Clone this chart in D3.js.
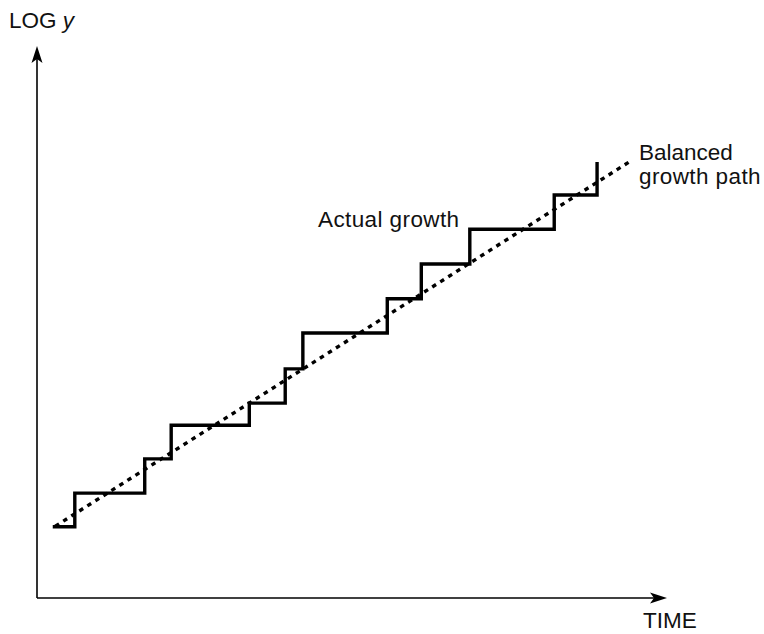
<!DOCTYPE html>
<html>
<head>
<meta charset="utf-8">
<script src="https://cdn.jsdelivr.net/npm/d3@7"></script>
<style>
  html, body { margin: 0; padding: 0; background: #fff; }
  svg { display: block; }
  text { font-family: "Liberation Sans", Arial, Helvetica, sans-serif; fill: #111; }
</style>
</head>
<body>
<script>
// ---- data (arbitrary units: time 0..100, log y 0..100) ----
const stepTimes  = [2.5, 6.0, 17.1, 21.3, 33.7, 39.4, 42.2, 55.6, 61.0, 68.7, 82.1, 88.9];
const stepLevels = [12.9, 19.0, 25.2, 31.3, 35.3, 41.5, 48.0, 54.2, 60.5, 66.8, 73.0, 79.0];
const balancedTimes  = [2.9, 94.0];
const balancedLevels = [13.0, 79.0];
const axisLabels = { x: "TIME", y: "LOG" };
const annotations = ["Actual growth", "Balanced", "growth path"];

const W = 764, H = 634;
const x = d3.scaleLinear().domain([0, 100]).range([37, 667]);
const y = d3.scaleLinear().domain([0, 100]).range([598, 46]);

const svg = d3.select("body").append("svg").attr("width", W).attr("height", H);

// axes
const axisG = svg.append("g").attr("stroke", "#000").attr("stroke-width", 1.6).attr("fill", "none");
axisG.append("line").attr("x1", x(0)).attr("y1", y(0)).attr("x2", x(0)).attr("y2", y(100) + 10);
axisG.append("line").attr("x1", x(0)).attr("y1", y(0)).attr("x2", x(100) - 10).attr("y2", y(0));

// arrowheads (notched)
const ay = y(100), ax = x(0);
svg.append("path")
  .attr("d", `M${ax},${ay} L${ax + 5.5},${ay + 17} L${ax},${ay + 13} L${ax - 5.5},${ay + 17} Z`)
  .attr("fill", "#000");
const bx = x(100), by = y(0);
svg.append("path")
  .attr("d", `M${bx},${by} L${bx - 17},${by - 5.5} L${bx - 13},${by} L${bx - 17},${by + 5.5} Z`)
  .attr("fill", "#000");

// balanced growth path (dotted)
const bal = balancedTimes.map((t, i) => [t, balancedLevels[i]]);
svg.append("path")
  .datum(bal)
  .attr("d", d3.line().x(d => x(d[0])).y(d => y(d[1])))
  .attr("fill", "none").attr("stroke", "#000")
  .attr("stroke-width", 3.4).attr("stroke-dasharray", "4.5,5");

// actual growth (steps)
const steps = stepTimes.map((t, i) => [t, stepLevels[i]]);
svg.append("path")
  .datum(steps)
  .attr("d", d3.line().x(d => x(d[0])).y(d => y(d[1])).curve(d3.curveStepAfter))
  .attr("fill", "none").attr("stroke", "#000")
  .attr("stroke-width", 3.4).attr("stroke-linejoin", "miter").attr("stroke-linecap", "butt");

// labels
const fs = 22.5;
const ylab = svg.append("text").attr("x", 9).attr("y", 28).attr("font-size", fs);
ylab.append("tspan").text(axisLabels.y + " ");
ylab.append("tspan").attr("font-style", "italic").text("y");

svg.append("text").attr("x", 643).attr("y", 628).attr("font-size", fs).text(axisLabels.x);

svg.append("text").attr("x", 318).attr("y", 227).attr("font-size", fs)
  .attr("letter-spacing", 0.4).text(annotations[0]);
svg.append("text").attr("x", 639).attr("y", 160).attr("font-size", fs).text(annotations[1]);
svg.append("text").attr("x", 639).attr("y", 184).attr("font-size", fs)
  .attr("letter-spacing", 0.4).text(annotations[2]);
</script>
</body>
</html>
